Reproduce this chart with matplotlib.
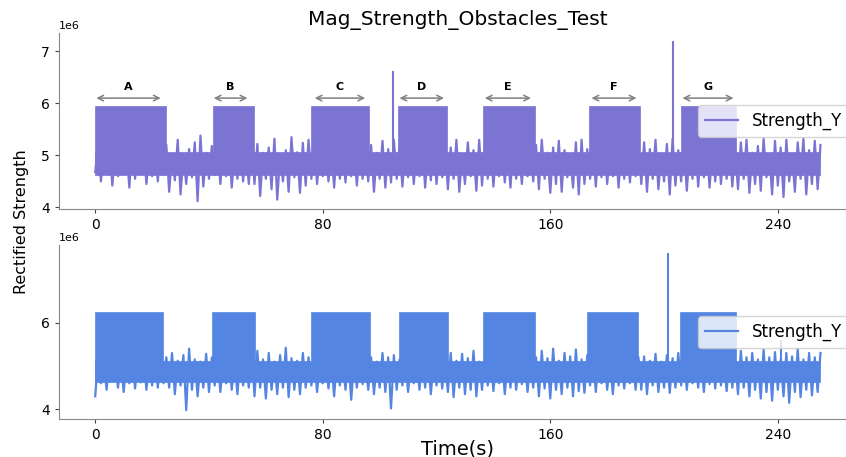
import numpy as np
import matplotlib.pyplot as plt

# signal is stored in units of 1e6, sampled every 2 s (min / max envelope per bin)
scale = 1e6
step = 2.0

top_upper = [5.2, 5.1, 5.25, 5.05, 5.2, 5.1, 5.3, 5.1, 5.2, 5.05, 5.25, 5.1, 5.2,
             5.02, 5.3, 5.0, 5.12, 5.25, 5.38, 5.05, 5.18,
             5.2, 5.1, 5.25, 5.1, 5.2, 5.1, 5.2,
             5.22, 5.05, 5.15, 5.32, 5.0, 5.1, 5.35, 5.06, 5.24, 5.3,
             5.2, 5.1, 5.2, 5.1, 5.2, 5.1, 5.2, 5.1, 5.2, 5.1, 5.2,
             5.05, 5.28, 5.12, 5.3,
             5.2, 5.1, 5.2, 5.1, 5.2, 5.1, 5.2, 5.1, 5.2,
             5.15, 5.3, 5.02, 5.25, 5.1, 5.3, 5.18,
             5.2, 5.1, 5.2, 5.1, 5.2, 5.1, 5.2, 5.1, 5.2,
             5.3, 5.05, 5.15, 5.28, 5.1, 5.0, 5.25, 5.3, 5.12,
             5.2, 5.1, 5.2, 5.1, 5.2, 5.1, 5.2, 5.1, 5.2,
             5.25, 5.12, 5.3, 5.0, 5.22, 5.32, 5.1,
             5.2, 5.1, 5.2, 5.1, 5.2, 5.1, 5.2, 5.1, 5.2, 5.1,
             5.25, 5.3, 5.05, 5.18, 5.32, 5.0, 5.28, 5.15, 5.3, 5.02, 5.25, 5.32, 5.1, 5.28, 5.2]
top_lower = [4.68, 4.5, 4.65, 4.42, 4.6, 4.7, 4.38, 4.55, 4.66, 4.45, 4.6, 4.5, 4.62,
             4.3, 4.52, 4.25, 4.45, 4.58, 4.12, 4.4, 4.55,
             4.62, 4.45, 4.6, 4.38, 4.55, 4.5, 4.45,
             4.45, 4.22, 4.55, 4.35, 4.15, 4.5, 4.3, 4.58, 4.28, 4.42,
             4.55, 4.45, 4.6, 4.5, 4.38, 4.55, 4.48, 4.6, 4.42, 4.55, 4.5,
             4.3, 4.55, 4.38, 4.48,
             4.55, 4.4, 4.58, 4.45, 4.6, 4.38, 4.52, 4.45, 4.58,
             4.35, 4.55, 4.3, 4.45, 4.6, 4.32, 4.42,
             4.55, 4.4, 4.6, 4.48, 4.38, 4.55, 4.45, 4.6, 4.5,
             4.35, 4.55, 4.28, 4.45, 4.3, 4.58, 4.38, 4.25, 4.45,
             4.55, 4.4, 4.58, 4.45, 4.6, 4.38, 4.55, 4.48, 4.6,
             4.45, 4.3, 4.55, 4.35, 4.5, 4.25, 4.42,
             4.5, 4.32, 4.55, 4.4, 4.58, 4.38, 4.5, 4.45, 4.55, 4.4,
             4.35, 4.55, 4.28, 4.45, 4.32, 4.58, 4.25, 4.42, 4.2, 4.5, 4.3, 4.55, 4.25, 4.45, 4.35]

bottom_upper = [5.2, 5.1, 5.25, 5.1, 5.2, 5.1, 5.25, 5.1, 5.2, 5.1, 5.25, 5.1, 5.2,
                5.3, 5.12, 5.25, 5.4, 5.15, 5.1, 5.28, 5.2,
                5.2, 5.1, 5.2, 5.1, 5.2, 5.1, 5.35,
                5.35, 5.15, 5.3, 5.1, 5.25, 5.42, 5.18, 5.12, 5.3, 5.2,
                5.2, 5.1, 5.2, 5.1, 5.2, 5.1, 5.2, 5.1, 5.2, 5.1, 5.2,
                5.1, 5.3, 5.2, 5.25,
                5.15, 5.2, 5.1, 5.2, 5.1, 5.2, 5.1, 5.2, 5.1,
                5.3, 5.12, 5.28, 5.18, 5.35, 5.1, 5.2,
                5.2, 5.1, 5.2, 5.1, 5.2, 5.1, 5.2, 5.1, 5.2,
                5.35, 5.18, 5.4, 5.12, 5.3, 5.22, 5.38, 5.15, 5.25,
                5.2, 5.1, 5.2, 5.1, 5.2, 5.1, 5.2, 5.1, 5.2,
                5.22, 5.12, 5.28, 5.1, 5.25, 5.18, 5.3,
                5.2, 5.1, 5.2, 5.1, 5.2, 5.1, 5.2, 5.1, 5.2, 5.1,
                5.35, 5.2, 5.3, 5.15, 5.38, 5.2, 5.32, 5.15, 5.3, 5.22, 5.4, 5.15, 5.3, 5.2, 5.3]
bottom_lower = [4.3, 4.6, 4.45, 4.65, 4.5, 4.4, 4.6, 4.48, 4.62, 4.45, 4.55, 4.5, 4.6,
                4.5, 4.35, 4.55, 3.98, 4.45, 4.3, 4.5, 4.4,
                4.55, 4.4, 4.6, 4.45, 4.35, 4.55, 4.5,
                4.3, 4.5, 4.25, 4.45, 4.35, 4.5, 4.28, 4.45, 4.35, 4.5,
                4.55, 4.4, 4.6, 4.48, 4.3, 4.55, 4.45, 4.22, 4.5, 4.58, 4.45,
                4.35, 4.5, 4.4, 4.02,
                4.45, 4.55, 4.4, 4.6, 4.45, 4.5, 4.35, 4.55, 4.48,
                4.4, 4.28, 4.5, 4.35, 4.45, 4.3, 4.45,
                4.55, 4.42, 4.6, 4.35, 4.5, 4.45, 4.58, 4.4, 4.5,
                4.3, 4.48, 4.25, 4.45, 4.35, 4.5, 4.3, 4.42, 4.38,
                4.55, 4.4, 4.6, 4.45, 4.35, 4.55, 4.48, 4.6, 4.45,
                4.45, 4.35, 4.55, 4.4, 4.5, 4.38, 4.5,
                4.55, 4.45, 4.6, 4.5, 4.4, 4.58, 4.48, 4.55, 4.42, 4.5,
                4.35, 4.5, 4.3, 4.45, 4.25, 4.4, 4.2, 4.45, 4.3, 4.15, 4.4, 4.28, 4.45, 4.32, 4.4]

# dense core of the noise (low, high) between obstacles
top_core = (4.62, 5.06)
bottom_core = (4.64, 5.12)

# obstacle intervals (s) where the field sits at the high level
top_start = [0.0, 41.3, 75.8, 106.3, 136.5, 173.7, 206.0]
top_end = [24.8, 55.7, 96.1, 123.8, 154.6, 191.4, 225.4]
top_high = 5.95
top_base = 4.72

bottom_start = [0.0, 41.0, 75.8, 106.9, 136.5, 172.9, 205.5]
bottom_end = [24.0, 56.0, 96.5, 124.2, 154.7, 191.0, 225.4]
bottom_high = 6.25
bottom_base = 4.76

# single-sample spikes
top_spike_t = [104.8, 203.0]
top_spike_v = [6.63, 7.19]
bottom_spike_t = [201.3, 241.2]
bottom_spike_v = [7.61, 5.6]

# labelled obstacle spans
labels = ['A', 'B', 'C', 'D', 'E', 'F', 'G']
arrow_start = [-0.6, 40.7, 76.2, 106.0, 136.0, 173.5, 205.5]
arrow_end = [24.0, 54.5, 95.9, 123.6, 154.2, 191.3, 225.4]
arrow_level = 6.1
label_level = 6.31

top_color = '#7b74d3'
bottom_color = '#5585e2'


def draw_trace(ax, upper, lower, core, starts, ends, high, base, spike_t, spike_v, color):
    t = np.arange(len(upper)) * step
    # min/max of each bin drawn one after the other gives the noisy trace
    tt = np.column_stack([t, t + step / 2]).ravel()
    yy = np.column_stack([lower, upper]).ravel() * scale
    ax.fill_between([t[0], t[-1] + 1], core[0] * scale, core[1] * scale,
                    color=color, lw=0.5)
    ax.plot(tt, yy, color=color, lw=1.6, label='Strength_Y')
    for s, e in zip(starts, ends):
        ax.fill_between([s, e], base * scale, high * scale, color=color, lw=0.5)
    ax.vlines(spike_t, 5.0 * scale, np.array(spike_v) * scale, color=color, lw=1.5)
    ax.legend(loc='center right', fontsize=12)


def style(ax):
    for side in ['top', 'right']:
        ax.spines[side].set_visible(False)
    for side in ['left', 'bottom']:
        ax.spines[side].set_color('#888888')
    ax.set_xlim(-12.75, 267.75)
    ax.set_xticks([0, 80, 160, 240])
    ax.tick_params(labelsize=10, length=3, color='#444444')
    ax.yaxis.get_offset_text().set_fontsize(8)


fig = plt.figure(figsize=(8.46, 4.57), dpi=100)
ax1 = fig.add_axes([0.0697, 0.5427, 0.943, 0.385])
ax2 = fig.add_axes([0.0697, 0.0825, 0.943, 0.3814])

draw_trace(ax1, top_upper, top_lower, top_core, top_start, top_end, top_high, top_base,
           top_spike_t, top_spike_v, top_color)
draw_trace(ax2, bottom_upper, bottom_lower, bottom_core, bottom_start, bottom_end,
           bottom_high, bottom_base, bottom_spike_t, bottom_spike_v, bottom_color)

for lab, s, e in zip(labels, arrow_start, arrow_end):
    ax1.annotate('', xy=(s, arrow_level * scale), xytext=(e, arrow_level * scale),
                 arrowprops=dict(arrowstyle='<->', color='#808080', lw=1.1))
    ax1.text((s + e) / 2, label_level * scale, lab, ha='center', va='center',
             fontsize=8, fontweight='bold')

style(ax1)
style(ax2)
ax1.set_ylim(3.97 * scale, 7.35 * scale)
ax1.set_yticks([4e6, 5e6, 6e6, 7e6])
ax2.set_ylim(3.77 * scale, 7.79 * scale)
ax2.set_yticks([4e6, 6e6])

ax1.set_title('Mag_Strength_Obstacles_Test', fontsize=14.5)
ax2.set_xlabel('Time(s)', fontsize=14, labelpad=-2)
fig.text(0.026, 0.514, 'Rectified Strength', rotation=90, ha='center', va='center',
         fontsize=11.5)

fig.savefig('out.png', dpi=100)
